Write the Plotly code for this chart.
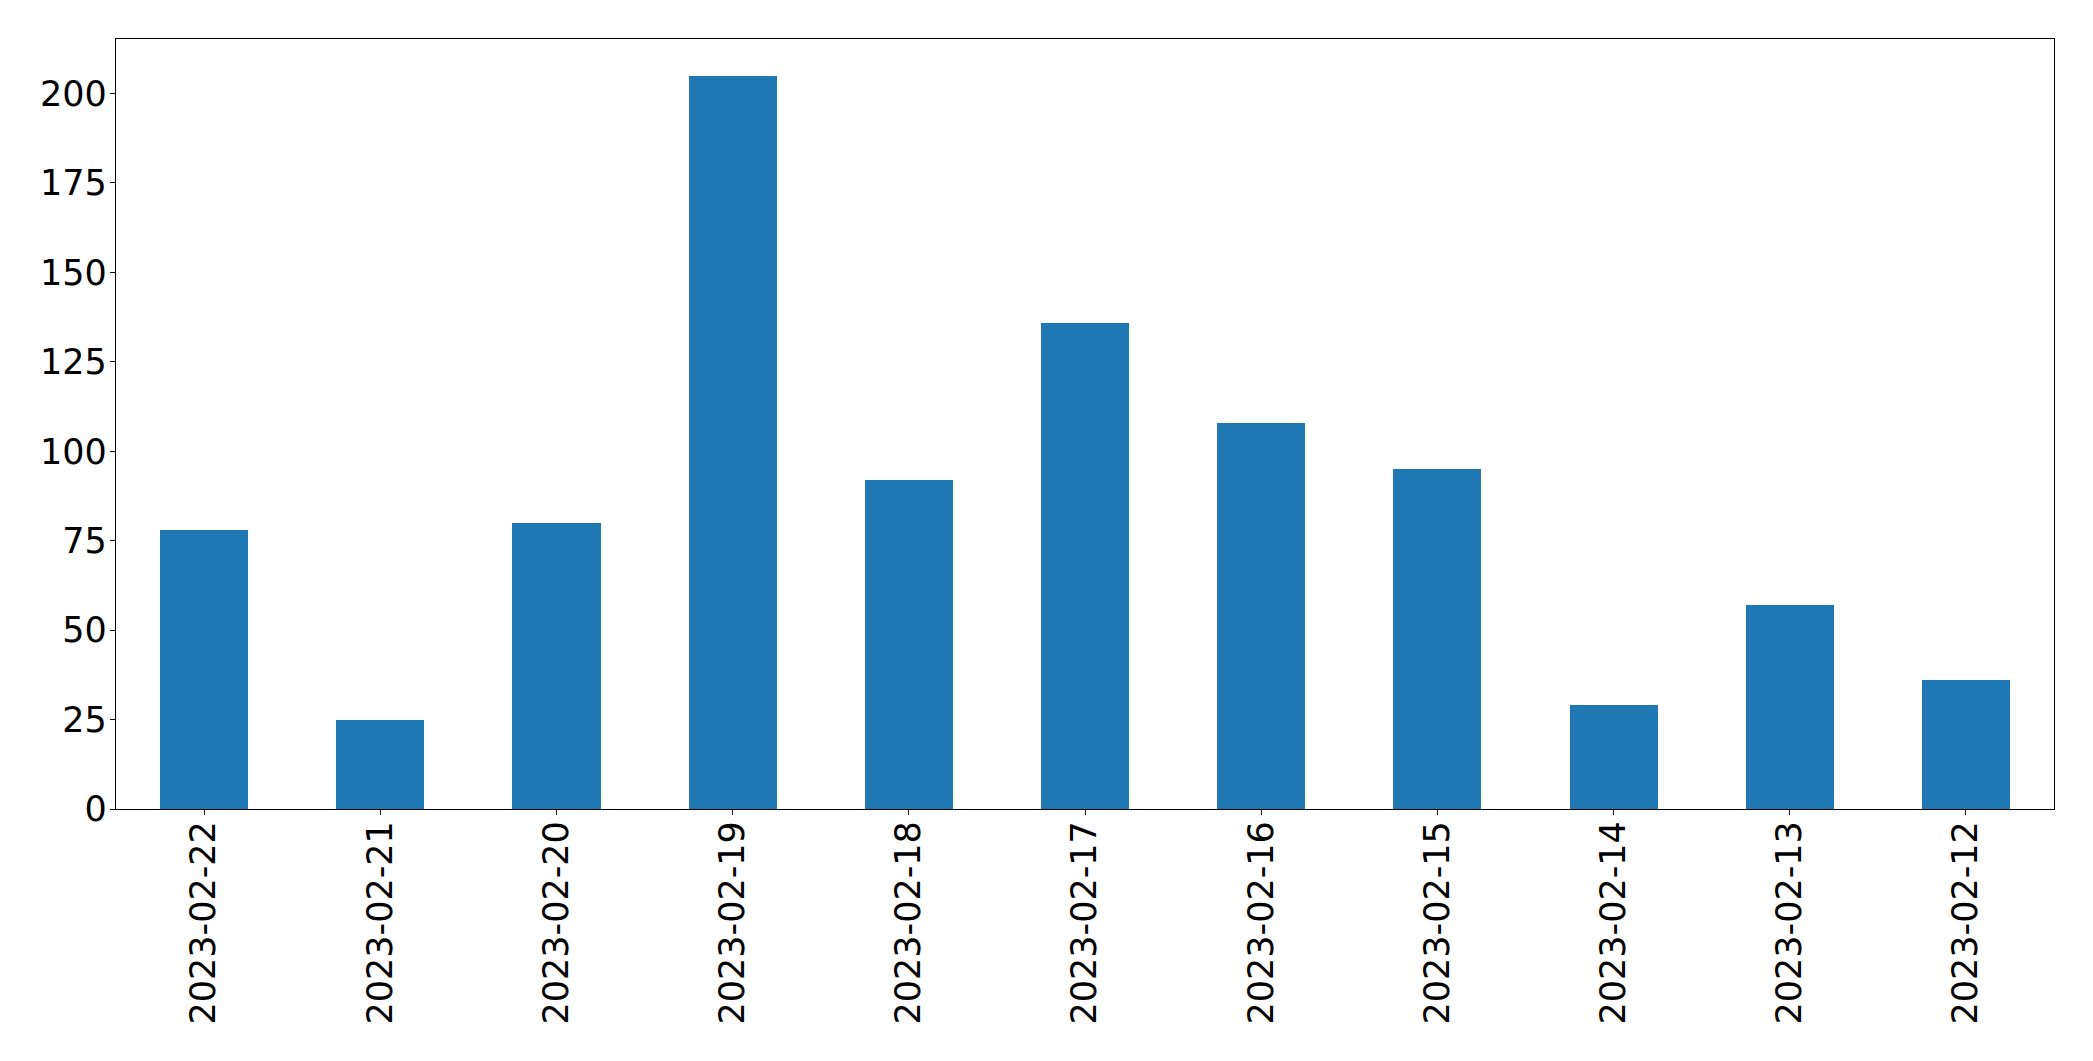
import plotly.graph_objects as go

dates = ["2023-02-22", "2023-02-21", "2023-02-20", "2023-02-19", "2023-02-18",
         "2023-02-17", "2023-02-16", "2023-02-15", "2023-02-14", "2023-02-13",
         "2023-02-12"]
counts = [78, 25, 80, 205, 92, 136, 108, 95, 29, 57, 36]
y_ticks = [0, 25, 50, 75, 100, 125, 150, 175, 200]

fig = go.Figure(go.Bar(
    x=list(range(len(dates))), y=counts, width=0.5,
    marker=dict(color="#1f77b4", line=dict(width=0)),
))

fig.update_layout(
    width=2085, height=1053,
    margin=dict(l=108, r=39, t=31, b=252),
    paper_bgcolor="white", plot_bgcolor="white",
    font=dict(family="DejaVu Sans", size=35, color="black"),
    showlegend=False, bargap=0,
)
fig.update_xaxes(
    range=[-0.5, len(dates) - 0.5],
    tickmode="array", tickvals=list(range(len(dates))), ticktext=dates,
    tickangle=-90, ticks="outside", ticklen=5, tickwidth=1.3, tickcolor="black",
    ticklabelstandoff=-8,
    showline=True, linecolor="black", linewidth=1.3, mirror=True,
    showgrid=False, zeroline=False,
)
fig.update_yaxes(
    range=[0, max(counts) * 1.05],
    tickmode="array", tickvals=y_ticks,
    ticks="outside", ticklen=5, tickwidth=1.3, tickcolor="black",
    ticklabelstandoff=-4,
    showline=True, linecolor="black", linewidth=1.3, mirror=True,
    showgrid=False, zeroline=False,
)

fig.write_html("out.html")
